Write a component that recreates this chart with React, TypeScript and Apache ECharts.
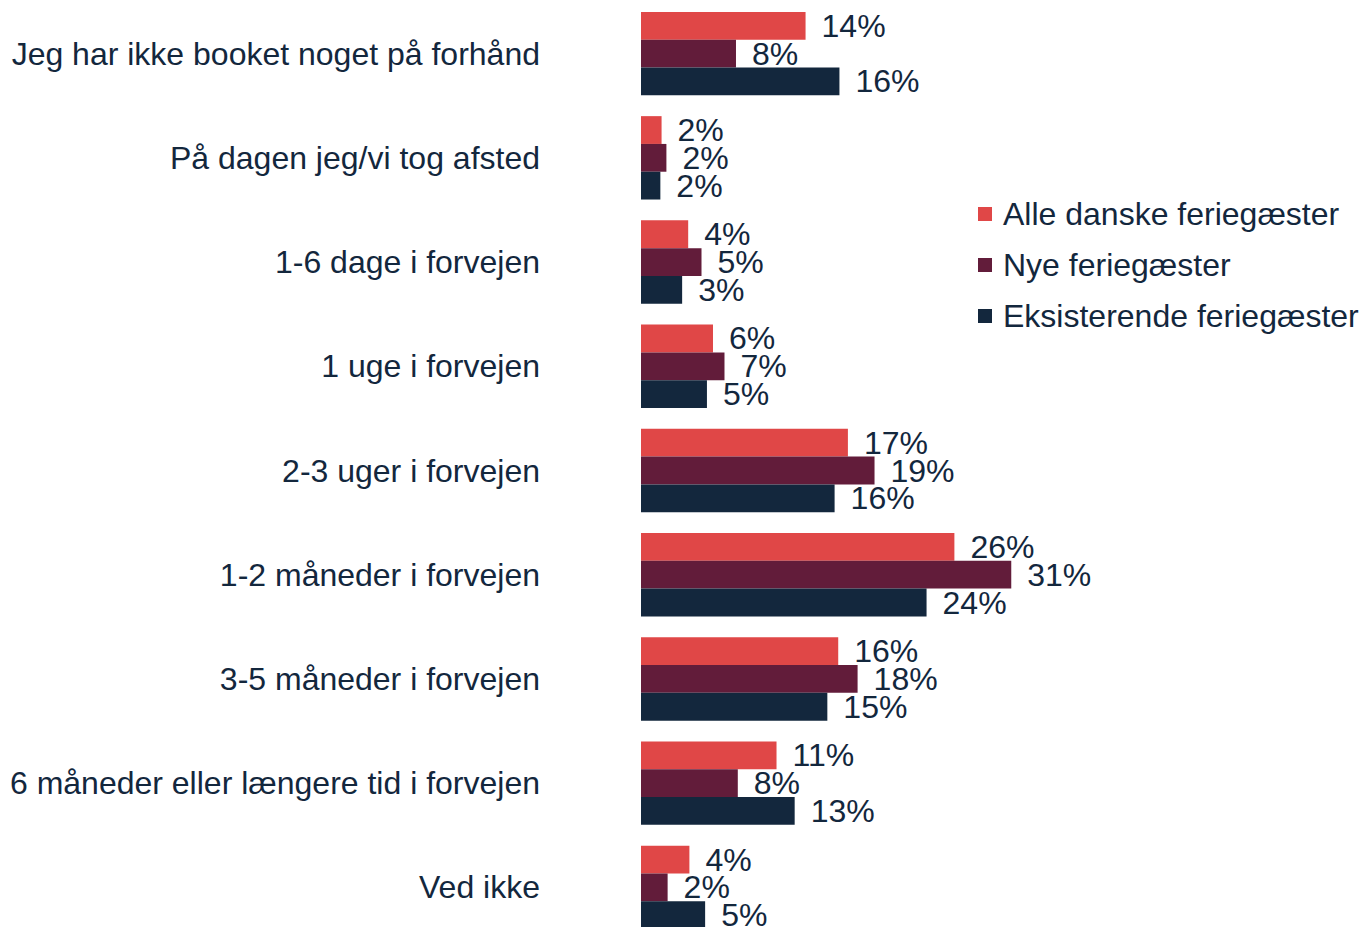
import React, { useEffect, useRef } from "react";
import * as echarts from "echarts";

const categories = [
  "Jeg har ikke booket noget på forhånd",
  "På dagen jeg/vi tog afsted",
  "1-6 dage i forvejen",
  "1 uge i forvejen",
  "2-3 uger i forvejen",
  "1-2 måneder i forvejen",
  "3-5 måneder i forvejen",
  "6 måneder eller længere tid i forvejen",
  "Ved ikke",
];

const seriesNames = ["Alle danske feriegæster", "Nye feriegæster", "Eksisterende feriegæster"];

const alleDanske = [13.6, 1.7, 3.9, 5.95, 17.1, 25.9, 16.3, 11.2, 4.0];
const nye = [7.85, 2.1, 5.0, 6.9, 19.3, 30.6, 17.9, 8.0, 2.2];
const eksisterende = [16.4, 1.6, 3.4, 5.45, 16.0, 23.6, 15.4, 12.7, 5.3];

const colors = ["#E04747", "#621C3A", "#13273D"];
const textColor = "#13273D";
const font = "Arial, 'Liberation Sans', sans-serif";

export default function App() {
  const ref = useRef<HTMLDivElement>(null);
  useEffect(() => {
    if (!ref.current) return;
    const chart = echarts.init(ref.current, null, { renderer: "svg" });
    const data = [alleDanske, nye, eksisterende];
    chart.setOption({
      animation: false,
      backgroundColor: "#ffffff",
      textStyle: { fontFamily: font },
      legend: {
        orient: "vertical",
        left: 973,
        top: 193,
        itemWidth: 14,
        itemHeight: 14,
        itemGap: 19,
        icon: "rect",
        textStyle: {
          fontSize: 32,
          color: textColor,
          fontFamily: font,
          lineHeight: 32,
          padding: [0, 0, 0, 6],
        },
        data: seriesNames,
      },
      grid: { left: 641, top: 1.5, width: 605, height: 938, containLabel: false },
      xAxis: {
        type: "value",
        min: 0,
        max: 50,
        show: false,
      },
      yAxis: {
        type: "category",
        inverse: true,
        data: categories,
        axisLine: { show: false },
        axisTick: { show: false },
        axisLabel: {
          margin: 101,
          fontSize: 32,
          color: textColor,
          fontFamily: font,
          padding: [8, 0, 0, 0],
        },
      },
      series: seriesNames.map((name, i) => ({
        name,
        type: "bar",
        data: data[i],
        barGap: "0%",
        barCategoryGap: "20%",
        itemStyle: { color: colors[i] },
        label: {
          show: true,
          position: "right",
          distance: 16,
          fontSize: 32,
          color: textColor,
          fontFamily: font,
          formatter: (p: any) => Math.round(p.value) + "%",
        },
      })),
    });
    return () => chart.dispose();
  }, []);
  return (
    <div
      style={{
        position: "absolute",
        left: 0,
        top: 0,
        width: 1361,
        height: 927,
        overflow: "hidden",
        background: "#fff",
      }}
    >
      <div ref={ref} style={{ width: 1361, height: 945 }} />
    </div>
  );
}
